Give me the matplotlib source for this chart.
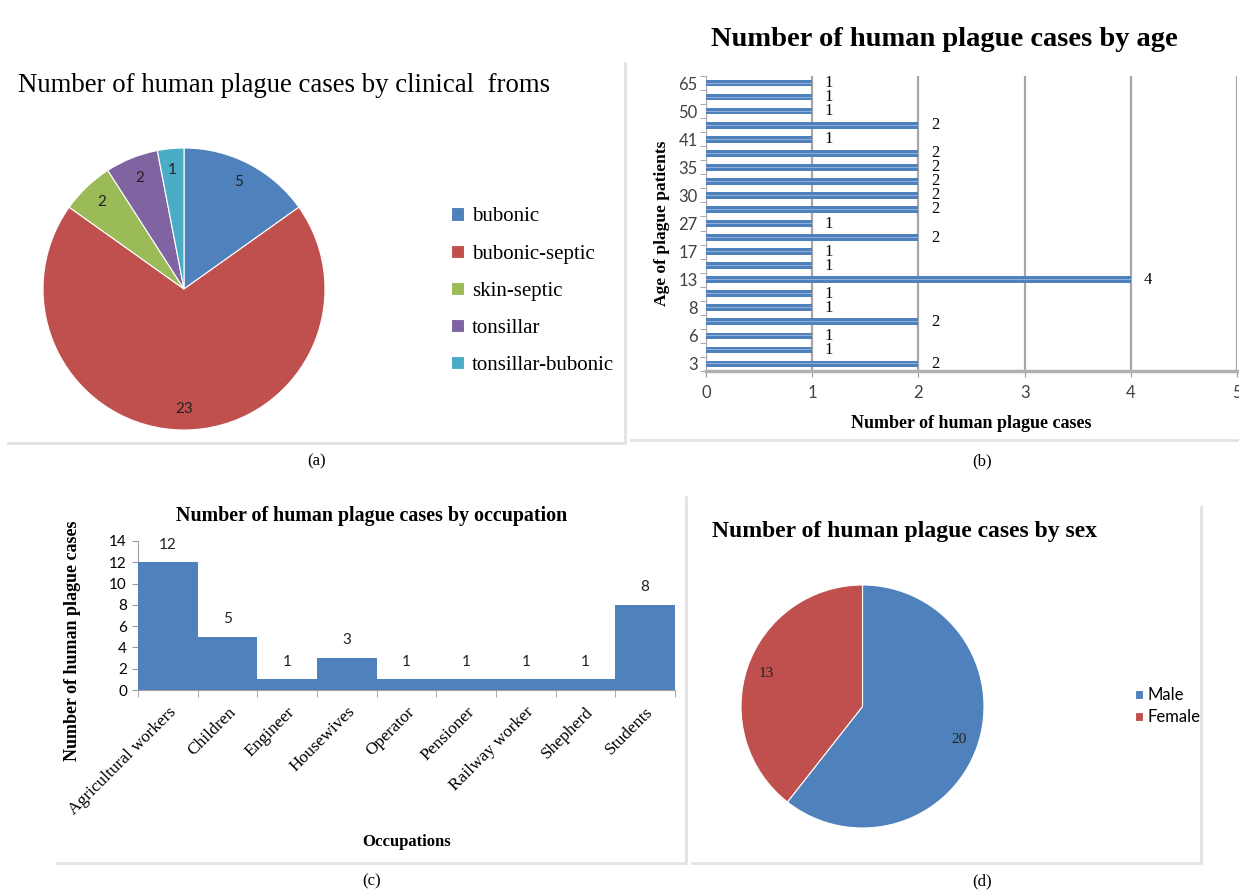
import matplotlib
matplotlib.use("Agg")
import matplotlib.pyplot as plt
from matplotlib.lines import Line2D

# data
forms = ["bubonic", "bubonic-septic", "skin-septic", "tonsillar", "tonsillar-bubonic"]
forms_cases = [5, 23, 2, 2, 1]

ages = ["3", "5", "6", "7", "8", "10", "13", "15", "17", "20", "27",
        "28", "30", "33", "35", "38", "41", "45", "50", "55", "65"]
age_cases = [2, 1, 1, 2, 1, 1, 4, 1, 1, 2, 1, 2, 2, 2, 2, 2, 1, 2, 1, 1, 1]

occupations = ["Agricultural workers", "Children", "Engineer", "Housewives", "Operator",
               "Pensioner", "Railway worker", "Shepherd", "Students"]
occ_cases = [12, 5, 1, 3, 1, 1, 1, 1, 8]

sexes = ["Male", "Female"]
sex_cases = [20, 13]

BLUE = "#4F81BD"
pie_colors = ["#4F81BD", "#C0504D", "#9BBB59", "#8064A2", "#4BACC6"]
SERIF = "Liberation Serif"
SANS = "Lato"

W, H = 1239, 892
fig = plt.figure(figsize=(W / 100, H / 100), dpi=100)


def px_axes(x0, y0, x1, y1):
    return fig.add_axes([x0 / W, 1 - y1 / H, (x1 - x0) / W, (y1 - y0) / H])


def ftext(x, y, s, **kw):
    fig.text(x / W, 1 - y / H, s, **kw)


def fline(xs, ys):
    fig.add_artist(Line2D([x / W for x in xs], [1 - y / H for y in ys],
                          color="#e2e2e2", lw=2, transform=fig.transFigure))


def count_fmt(values):
    total = sum(values)
    return lambda p: f"{round(p * total / 100)}"


# panel borders
fline([8, 625, 625], [443, 443, 63])
fline([631, 1239], [440, 440])
fline([57, 686, 686], [863, 863, 497])
fline([692, 1201, 1201], [863, 863, 507])

# (a) clinical forms pie
ax = px_axes(42, 148, 326, 430)
wedges, _, autotexts = ax.pie(forms_cases, colors=pie_colors, startangle=90, counterclock=False,
                              autopct=count_fmt(forms_cases), pctdistance=0.85,
                              wedgeprops=dict(edgecolor="white", linewidth=0.8),
                              textprops=dict(family=SANS, fontsize=11, color="#222222"))
ax.set_xlim(-1, 1)
ax.set_ylim(-1, 1)
ftext(18, 86, "Number of human plague cases by clinical  froms", family=SERIF,
      fontsize=19.3, va="center", ha="left")
fig.legend(wedges, forms, loc="upper left", bbox_to_anchor=(441 / W, 1 - 197 / H),
           bbox_transform=fig.transFigure, frameon=False, borderpad=0,
           handlelength=0.6, handleheight=0.6, handletextpad=0.4, labelspacing=0.87,
           prop=dict(family=SERIF, size=15))
ftext(317, 461, "(a)", family=SERIF, fontsize=12, ha="center", va="center")

# (b) age horizontal bars
ax = px_axes(706, 76, 1237, 371)
pos = list(range(len(ages)))
ax.barh(pos, age_cases, height=0.48, color=BLUE, zorder=3)
ax.barh(pos, age_cases, height=0.07, color="#8EADD8", zorder=4)
for y, v in zip(pos, age_cases):
    ax.text(v + 0.12, y, str(v), family=SERIF, fontsize=12, va="center", ha="left")
ax.set_xlim(0, 5)
ax.set_ylim(-0.5, len(ages) - 0.5)
ax.set_xticks(range(6))
ax.set_yticks(pos[::2])
ax.set_yticklabels(ages[::2])
ax.set_yticks([p - 0.5 for p in pos] + [pos[-1] + 0.5], minor=True)
ax.tick_params(axis="y", which="major", length=0, pad=6, labelsize=12, labelcolor="#404040")
ax.tick_params(axis="y", which="minor", length=4, color="#999999", direction="out")
ax.tick_params(axis="x", length=4, color="#999999", labelsize=12, labelcolor="#404040", pad=6)
for lbl in ax.get_xticklabels() + ax.get_yticklabels():
    lbl.set_family(SANS)
ax.grid(axis="x", color="#a6a6a6", lw=1.6, zorder=0)
for s in ["top", "right"]:
    ax.spines[s].set_visible(False)
ax.spines["bottom"].set_color("#b0b0b0")
ax.spines["bottom"].set_linewidth(2.5)
ax.spines["left"].set_color("#b0b0b0")
ax.set_xlabel("Number of human plague cases", family=SERIF, fontsize=13, fontweight="bold",
              labelpad=10)
ax.set_ylabel("Age of plague patients", family=SERIF, fontsize=12.5, fontweight="bold",
              labelpad=6)
ftext(944, 39, "Number of human plague cases by age", family=SERIF, fontsize=20.5,
      fontweight="bold", ha="center", va="center")
ftext(982, 461, "(b)", family=SERIF, fontsize=12, ha="center", va="center")

# (c) occupation bars
ax = px_axes(138, 541, 675, 690)
xs = list(range(len(occupations)))
ax.bar(xs, occ_cases, width=1.0, color=BLUE, zorder=3)
for x, v in zip(xs, occ_cases):
    ax.text(x, v + 1.0, str(v), family=SANS, fontsize=11, ha="center", va="bottom",
            color="#222222")
ax.set_xlim(-0.5, len(occupations) - 0.5)
ax.set_ylim(0, 14)
ax.set_yticks(range(0, 15, 2))
ax.set_xticks(xs)
ax.set_xticklabels(occupations, rotation=45, ha="right", rotation_mode="anchor",
                   family=SERIF, fontsize=12.5)
ax.set_xticks([x - 0.5 for x in xs] + [xs[-1] + 0.5], minor=True)
ax.tick_params(axis="x", which="major", length=0, pad=10)
ax.tick_params(axis="x", which="minor", length=5, color="#999999")
ax.tick_params(axis="y", length=4, color="#999999", labelsize=11, pad=4)
for lbl in ax.get_yticklabels():
    lbl.set_family(SANS)
for s in ["top", "right"]:
    ax.spines[s].set_visible(False)
ax.spines["bottom"].set_color("#a0a0a0")
ax.spines["left"].set_color("#a0a0a0")
ax.set_xlabel("Occupations", family=SERIF, fontsize=12, fontweight="bold", labelpad=12)
ax.set_ylabel("Number of human plague cases", family=SERIF, fontsize=13, fontweight="bold")
ax.yaxis.set_label_coords(-0.106, 0.33)
ftext(372, 516, "Number of human plague cases by occupation", family=SERIF, fontsize=14.4,
      fontweight="bold", ha="center", va="center")
ftext(372, 881, "(c)", family=SERIF, fontsize=12, ha="center", va="center")

# (d) sex pie
ax = px_axes(741, 585, 984, 828)
wedges, _, _ = ax.pie(sex_cases, colors=pie_colors[:2], startangle=90, counterclock=False,
                      autopct=count_fmt(sex_cases), pctdistance=0.84,
                      wedgeprops=dict(edgecolor="white", linewidth=0.8),
                      textprops=dict(family=SERIF, fontsize=11, color="#222222"))
ax.set_xlim(-1, 1)
ax.set_ylim(-1, 1)
ftext(712, 531, "Number of human plague cases by sex", family=SERIF, fontsize=17,
      fontweight="bold", ha="left", va="center")
fig.legend(wedges, sexes, loc="upper left", bbox_to_anchor=(1127 / W, 1 - 679 / H),
           bbox_transform=fig.transFigure, frameon=False, borderpad=0,
           handlelength=0.45, handleheight=0.45, handletextpad=0.3, labelspacing=0.35,
           prop=dict(family=SANS, size=12))
ftext(982, 881, "(d)", family=SERIF, fontsize=12, ha="center", va="center")

fig.savefig("out.png", dpi=100, facecolor="white")
